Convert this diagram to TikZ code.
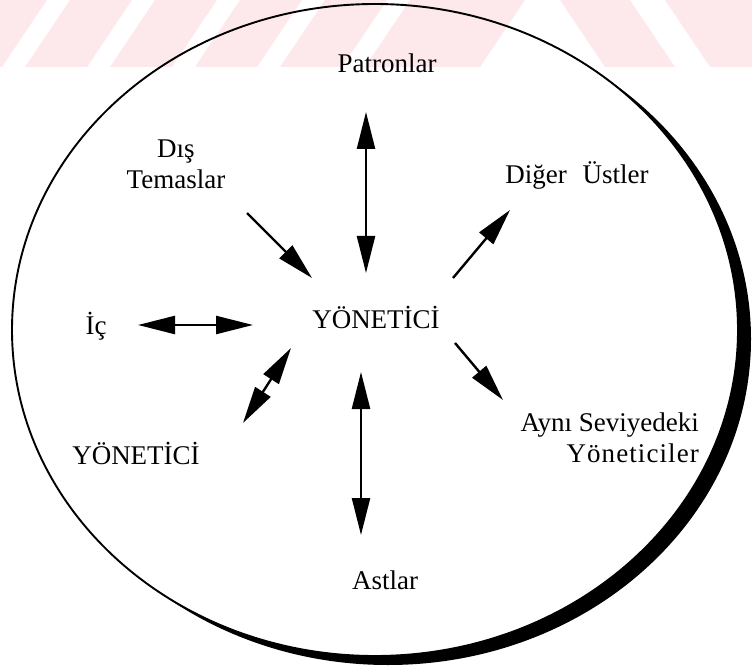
\documentclass[tikz,border=0pt]{standalone}
\usepackage{fontspec}
\setmainfont{Liberation Serif}
\usetikzlibrary{arrows.meta, positioning}

\definecolor{filigran}{RGB}{253,232,236}

\tikzset{
  etiket/.style={font=\fontsize{27}{31}\selectfont, inner sep=0pt, align=center},
  tek/.style={line width=2.4pt, -{Triangle[length=37pt, width=18pt]}},
  cift/.style={line width=2.4pt, {Triangle[length=37pt, width=18pt]}-{Triangle[length=37pt, width=18pt]}}
}

\begin{document}
\begin{tikzpicture}[x=1pt, y=-1pt]

  \useasboundingbox (0,0) rectangle (752,668);

  % --- elips ve golgesi ---
  \fill[black] (388,339) ellipse [x radius=363, y radius=326];
  \fill[white] (375,330) ellipse [x radius=363, y radius=326];

  % --- filigran (ust serit) ---
  \foreach \a in {-60,25,110,195,280}{
    \fill[filigran] (\a,67) -- (\a+62,67) -- (\a+107,0) -- (\a+45,0) -- cycle;
  }
  \fill[filigran] (365,67) -- (480,67) -- (525,0) -- (410,0) -- cycle;
  \fill[filigran] (560,0) -- (630,0) -- (675,67) -- (605,67) -- cycle;
  \fill[filigran] (665,0) -- (752,0) -- (752,67) -- (710,67) -- cycle;

  \draw[line width=1.9pt] (375,330) ellipse [x radius=363, y radius=326];

  % --- metinler ---
  \node[etiket] (yonetici) at (376,317) {YÖNETİCİ};
  \node[etiket] (patron) at (387,63) {Patronlar};
  \node[etiket] (dis) at (176,164) {Dış\\Temaslar};
  \node[etiket] (ustler) at (577,175) {Diğer\,\, Üstler};
  \node[etiket] (ic) at (96,326) {İç};
  \node[etiket] (alt) at (136,453) {YÖNETİCİ};
  \node[etiket, align=right, anchor=north east] (ayni) at (699,413)
    {Aynı Seviyedeki\\{\addfontfeature{LetterSpace=4}Yöneticiler}};
  \node[etiket] (astlar) at (385,580) {Astlar};

  % --- ok uclari ---
  \coordinate (pUst) at (366,112);
  \coordinate (pAlt) at (366,273);
  \coordinate (dBas) at (247,213);
  \coordinate (dSon) at (312,278);
  \coordinate (uBas) at (453,278);
  \coordinate (uSon) at (510,210);
  \coordinate (iSol) at (138,325);
  \coordinate (iSag) at (253,325);
  \coordinate (yUst) at (291,348);
  \coordinate (yAlt) at (243,423);
  \coordinate (aBas) at (455,343);
  \coordinate (aSon) at (503,400);
  \coordinate (sUst) at (361,372);
  \coordinate (sAlt) at (361,535);

  % --- oklar ---
  \draw[cift] (pUst) -- (pAlt);
  \draw[tek] (dBas) -- (dSon);
  \draw[tek] (uBas) -- (uSon);
  \draw[cift] (iSol) -- (iSag);
  \draw[cift] (yUst) -- (yAlt);
  \draw[tek] (aBas) -- (aSon);
  \draw[cift] (sUst) -- (sAlt);

\end{tikzpicture}
\end{document}
